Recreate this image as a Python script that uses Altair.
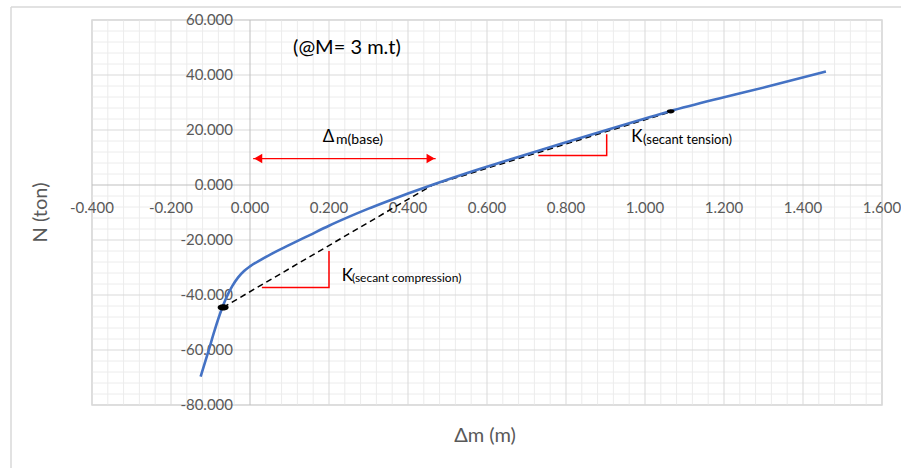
import altair as alt
import pandas as pd

# ---------------- data ----------------
curve_x = [-0.125, -0.105, -0.089, -0.072, -0.060, -0.045, -0.030, -0.015, 0.000, 0.025,
           0.050, 0.100, 0.150, 0.200, 0.250, 0.300, 0.350, 0.400, 0.464, 0.550,
           0.650, 0.759, 0.903, 1.013, 1.063, 1.200, 1.308, 1.458]
curve_y = [-69.7, -60.3, -52.6, -45.3, -41.0, -36.8, -33.6, -31.3, -29.6, -27.4,
           -25.4, -21.8, -18.3, -14.8, -11.6, -8.6, -5.8, -3.1, 0.2, 4.4,
           8.9, 13.7, 20.0, 24.7, 26.8, 31.9, 35.7, 41.3]

x_ticks = [-0.4, -0.2, 0.0, 0.2, 0.4, 0.6, 0.8, 1.0, 1.2, 1.4, 1.6]
x_tick_labels = ["-0.400", "-0.200", "0.000", "0.200", "0.400", "0.600", "0.800",
                 "1.000", "1.200", "1.400", "1.600"]
y_ticks = [60, 40, 20, 0, -20, -40, -60, -80]
y_tick_labels = ["60.000", "40.000", "20.000", "0.000", "-20.000", "-40.000",
                 "-60.000", "-80.000"]
x_minor = [round(-0.4 + 0.04 * i, 3) for i in range(51)]
y_minor = [-80 + 4 * i for i in range(36)]

comp_secant_x = [-0.068, 0.462]
comp_secant_y = [-44.5, 0.0]
ten_secant_x = [0.462, 1.065]
ten_secant_y = [0.0, 26.6]

comp_tri_x = [0.03, 0.2, 0.2]
comp_tri_y = [-37.3, -37.3, -24.0]
ten_tri_x = [0.73, 0.903, 0.903]
ten_tri_y = [10.7, 10.7, 18.5]

arrow_x = [0.008, 0.470]
arrow_y = 9.6

markers_x = [-0.068, 1.065]
markers_y = [-44.5, 26.8]
markers_size = [120, 60]

# ---------------- scales ----------------
W, H = 790, 385
xs = alt.Scale(domain=[-0.4, 1.6], nice=False, zero=False)
ys = alt.Scale(domain=[-80, 60], nice=False, zero=False)
FONT = "Lato"
GRAY = "#595959"


def X(f="x"):
    return alt.X(f"{f}:Q", scale=xs, axis=None)


def Y(f="y"):
    return alt.Y(f"{f}:Q", scale=ys, axis=None)


# grid
minor_x_df = pd.DataFrame({"x": [v for v in x_minor if round(v / 0.2, 6) % 1 != 0]})
minor_y_df = pd.DataFrame({"y": [v for v in y_minor if v % 20 != 0]})
major_x_df = pd.DataFrame({"x": [v for v in x_ticks if v != 0]})
major_y_df = pd.DataFrame({"y": [v for v in y_ticks if v != 0]})

g_minor_x = alt.Chart(minor_x_df).mark_rule(color="#ececec", strokeWidth=1).encode(x=X())
g_minor_y = alt.Chart(minor_y_df).mark_rule(color="#ececec", strokeWidth=1).encode(y=Y())
g_major_x = alt.Chart(major_x_df).mark_rule(color="#d9d9d9", strokeWidth=1).encode(x=X())
g_major_y = alt.Chart(major_y_df).mark_rule(color="#d9d9d9", strokeWidth=1).encode(y=Y())
zero_x = alt.Chart(pd.DataFrame({"x": [0.0]})).mark_rule(color="#bfbfbf", strokeWidth=1).encode(x=X())
zero_y = alt.Chart(pd.DataFrame({"y": [0.0]})).mark_rule(color="#bfbfbf", strokeWidth=1).encode(y=Y())

# outer chart-area border (Excel frame)
frame_v = alt.Chart(pd.DataFrame({"a": [0]})).mark_rule(color="#d9d9d9", strokeWidth=1.5, clip=False).encode(
    x=alt.value(-81), y=alt.value(-13), y2=alt.value(460))
frame_h = alt.Chart(pd.DataFrame({"a": [0]})).mark_rule(color="#d9d9d9", strokeWidth=1.5, clip=False).encode(
    y=alt.value(-13), x=alt.value(-81), x2=alt.value(820))

# curve
curve_df = pd.DataFrame({"x": curve_x, "y": curve_y, "o": list(range(len(curve_x)))})
curve = alt.Chart(curve_df).mark_line(color="#4472C4", strokeWidth=2.6, interpolate="monotone").encode(
    x=X(), y=Y(), order="o:Q")

# secants
comp_df = pd.DataFrame({"x": comp_secant_x, "y": comp_secant_y, "o": [0, 1]})
ten_df = pd.DataFrame({"x": ten_secant_x, "y": ten_secant_y, "o": [0, 1]})
comp_line = alt.Chart(comp_df).mark_line(color="black", strokeWidth=1.5, strokeDash=[6, 4]).encode(
    x=X(), y=Y(), order="o:Q")
ten_line = alt.Chart(ten_df).mark_line(color="black", strokeWidth=1.5, strokeDash=[6, 4]).encode(
    x=X(), y=Y(), order="o:Q")

# red slope triangles
ctri_df = pd.DataFrame({"x": comp_tri_x, "y": comp_tri_y, "o": [0, 1, 2]})
ttri_df = pd.DataFrame({"x": ten_tri_x, "y": ten_tri_y, "o": [0, 1, 2]})
ctri = alt.Chart(ctri_df).mark_line(color="#ff0000", strokeWidth=1.5).encode(x=X(), y=Y(), order="o:Q")
ttri = alt.Chart(ttri_df).mark_line(color="#ff0000", strokeWidth=1.5).encode(x=X(), y=Y(), order="o:Q")

# red double arrow
arrow_df = pd.DataFrame({"x": [arrow_x[0]], "x2": [arrow_x[1]], "y": [arrow_y]})
arrow_line = alt.Chart(arrow_df).mark_rule(color="#ff0000", strokeWidth=1.3).encode(
    x=X(), x2="x2:Q", y=Y())
head_l = alt.Chart(pd.DataFrame({"x": [arrow_x[0]], "y": [arrow_y]})).mark_point(
    shape="triangle-left", filled=True, color="#ff0000", size=90, opacity=1, xOffset=5).encode(x=X(), y=Y())
head_r = alt.Chart(pd.DataFrame({"x": [arrow_x[1]], "y": [arrow_y]})).mark_point(
    shape="triangle-right", filled=True, color="#ff0000", size=90, opacity=1, xOffset=-5).encode(x=X(), y=Y())

# black end markers
mk_df = pd.DataFrame({"x": markers_x, "y": markers_y, "s": markers_size})
markers = alt.Chart(mk_df).mark_point(
    shape="M-1,0A1,0.55,0,1,0,1,0A1,0.55,0,1,0,-1,0Z", filled=True, color="black", opacity=1
).encode(x=X(), y=Y(), size=alt.Size("s:Q", scale=None, legend=None))

# tick labels
xl_df = pd.DataFrame({"x": x_ticks, "y": [0.0] * len(x_ticks), "t": x_tick_labels})
yl_df = pd.DataFrame({"x": [0.0] * len(y_ticks), "y": y_ticks, "t": y_tick_labels})
x_labels = alt.Chart(xl_df).mark_text(font=FONT, fontSize=15, color=GRAY, align="center",
                                      baseline="middle", dy=23, clip=False).encode(x=X(), y=Y(), text="t:N")
y_labels = alt.Chart(yl_df).mark_text(font=FONT, fontSize=15, color=GRAY, align="right",
                                      baseline="middle", dx=-17, clip=False).encode(x=X(), y=Y(), text="t:N")

# annotations (data coordinates)
def txt(x, y, s, size, color="black"):
    return alt.Chart(pd.DataFrame({"x": [x], "y": [y], "t": [s]})).mark_text(
        font=FONT, fontSize=size, color=color, align="left", baseline="alphabetic", clip=False
    ).encode(x=X(), y=Y(), text="t:N")

ann = [
    txt(0.109, 47.7, "(@M= 3 m.t)", 20),
    txt(0.184, 15.6, "Δ", 17),
    txt(0.218, 15.0, "m(base)", 14),
    txt(0.965, 15.5, "K", 17),
    txt(0.995, 15.0, "(secant tension)", 13),
    txt(0.232, -34.8, "K", 17),
    txt(0.258, -35.4, "(secant compression)", 12),
]

# axis titles
x_title = alt.Chart(pd.DataFrame({"t": ["Δm (m)"]})).mark_text(
    font=FONT, fontSize=20, color=GRAY, align="center", baseline="middle", clip=False
).encode(x=alt.value(W / 2 - 2), y=alt.value(416), text="t:N")
y_title = alt.Chart(pd.DataFrame({"t": ["N (ton)"]})).mark_text(
    font=FONT, fontSize=20, color=GRAY, align="center", baseline="middle", angle=270, clip=False
).encode(x=alt.value(-51), y=alt.value(H / 2), text="t:N")

chart = alt.layer(
    frame_v, frame_h,
    g_minor_x, g_minor_y, g_major_x, g_major_y, zero_x, zero_y,
    x_labels, y_labels,
    ctri, ttri, arrow_line, head_l, head_r,
    comp_line, ten_line, curve, markers,
    *ann, x_title, y_title,
).properties(
    width=W, height=H,
    padding={"left": 92, "top": 20, "right": 19, "bottom": 63},
    autosize=alt.AutoSizeParams(type="none"),
    background="white",
).configure_view(stroke="#d9d9d9", strokeWidth=1.5)

chart.save("out.html", embed_options={"renderer": "svg", "actions": False})
